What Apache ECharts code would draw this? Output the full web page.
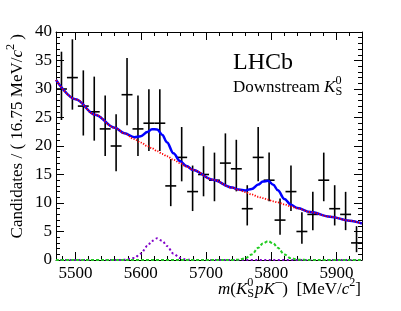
<!DOCTYPE html>
<html><head><meta charset="utf-8">
<script src="https://cdn.jsdelivr.net/npm/echarts@6/dist/echarts.min.js"></script>
<style>html,body{margin:0;padding:0;background:#fff}#c{width:401px;height:311px}</style>
</head><body><div id="c"></div>
<script>
// ---- data ----
const binLow = 5470, binWidth = 16.75, xMax = 5939;
const counts = [30,32,27,26,23,20,29,23,24,24,13,18,12,15,14,17,16,9,18,14,7,12,5,8,14,9,8,3];
const curveX = [5470,5500,5530,5560,5575,5590,5600,5610,5617,5625,5633,5640,5650,5660,5670,5680,5710,5740,5750,5760,5770,5780,5787,5795,5803,5810,5820,5830,5840,5860,5890,5920,5939];
const totalY = [31.6,28.2,25.5,23.2,22.23,21.55,21.72,22.45,22.95,22.9,21.95,20.65,18.72,17.35,16.47,15.81,14.1,12.71,12.36,12.2,12.47,13.23,13.76,13.9,13.21,12.23,10.72,9.7,9.11,8.4,7.6,6.9,6.4];
const bkgY = [31.6,28.2,25.5,23.2,22.2,21.2,20.6,20.0,19.6,19.1,18.6,18.2,17.6,17.0,16.4,15.8,14.1,12.7,12.3,11.9,11.5,11.1,10.85,10.6,10.3,10.1,9.75,9.4,9.05,8.4,7.6,6.9,6.4];
const peak1Y = [0,0,0,0,0.03,0.35,1.12,2.45,3.35,3.8,3.35,2.45,1.12,0.35,0.07,0.01,0,0,0,0,0,0,0,0,0,0,0,0,0,0,0,0,0];
const peak2Y = [0,0,0,0,0,0,0,0,0,0,0,0,0,0,0,0,0,0.01,0.06,0.30,0.97,2.13,2.91,3.3,2.91,2.13,0.97,0.30,0.06,0,0,0,0];
const xMajorTicks = [5500,5600,5700,5800,5900];
const xMinorTicks = [5480,5500,5520,5540,5560,5580,5600,5620,5640,5660,5680,5700,5720,5740,5760,5780,5800,5820,5840,5860,5880,5900,5920];

// ---- derived ----
const FAM = "'Liberation Serif','DejaVu Serif',serif";
function poissonLo(n){ if(n<=0) return 0; const a = 1 - 1/(9*n) - 1/(3*Math.sqrt(n)); return n*a*a*a; }
function poissonHi(n){ return n + Math.sqrt(n+0.75) + 1; }
const points = counts.map((n,i)=>[binLow + binWidth*(i+0.5), n, poissonLo(n), poissonHi(n)]);
const pair = ys => curveX.map((x,i)=>[x, ys[i]]);

const mctx = document.createElement('canvas').getContext('2d');
function build(pieces, base){
  let x = 0, prevStart = 0; const out = [];
  pieces.forEach(p=>{
    const size = base*(p.s||1);
    const font = (p.i?'italic ':'') + size.toFixed(1) + 'px ' + FAM;
    mctx.font = font;
    const w = mctx.measureText(p.t).width + (p.pad||0)*base;
    let px;
    if (p.stack){ px = prevStart; x = Math.max(x, prevStart + w); }
    else { px = x; prevStart = x; x += w; }
    out.push({t:p.t, x:px, dy:(p.dy||0)*base, font});
  });
  return {items:out, width:x};
}
function textEls(b, ox, oy, anchorRight){
  const shift = anchorRight ? -b.width : 0;
  return b.items.map(it=>({type:'text', x: ox + it.x + shift, y: oy + it.dy,
    style:{text:it.t, font:it.font, fill:'#000', align:'left', verticalAlign:'middle'}}));
}
const SUP = -0.42, SUB = 0.22, SC = 0.72;
const xTitle = build([
  {t:'m',i:1},{t:'('},{t:'K',i:1},{t:'0',s:SC,dy:SUP},{t:'S',s:SC,dy:SUB,stack:1,pad:0.06},
  {t:'p',i:1},{t:'K',i:1,pad:0.03},{t:'\u2013',s:0.8,dy:SUP},{t:')'},{t:'  [MeV/'},{t:'c',i:1},{t:'2',s:SC,dy:SUP},{t:']'}
], 17);
const yTitle = build([
  {t:'Candidates / ( 16.75 MeV/'},{t:'c',i:1},{t:'2',s:SC,dy:SUP},{t:' )'}
], 17);
const ds = build([
  {t:'Downstream '},{t:'K',i:1},{t:'0',s:SC,dy:SUP},{t:'S',s:SC,dy:SUB,stack:1}
], 17);

const graphics = [
  ...textEls(xTitle, 361, 290, true),
  {type:'group', x:17.5, y:34, rotation:Math.PI/2, children: textEls(yTitle, 0, 0, true)},
  {type:'text', x:233, y:63, style:{text:'LHCb', font:'24px '+FAM, fill:'#000', align:'left', verticalAlign:'middle'}},
  ...textEls(ds, 233, 88, false)
];

const axLine = {show:true, lineStyle:{color:'#000', width:1}};
const lab = {fontFamily:FAM, fontSize:17, color:'#000', formatter: v => String(v)};
const xBase = {type:'value', min:binLow, max:xMax, splitLine:{show:false}};
const chart = echarts.init(document.getElementById('c'), null, {renderer:'canvas'});
chart.setOption({
  animation:false,
  backgroundColor:'#fff',
  grid:{left:56, top:32, width:306, height:228, containLabel:false},
  xAxis:[
    Object.assign({}, xBase, {position:'bottom', axisLine:axLine,
      axisTick:{show:true, inside:true, length:8, customValues:xMajorTicks, lineStyle:{color:'#000'}},
      axisLabel:Object.assign({show:true, margin:5, customValues:xMajorTicks}, lab)}),
    Object.assign({}, xBase, {position:'bottom', axisLine:{show:false},
      axisTick:{show:true, inside:true, length:4, customValues:xMinorTicks, lineStyle:{color:'#000'}},
      axisLabel:{show:false}}),
    Object.assign({}, xBase, {position:'top', axisLine:axLine,
      axisTick:{show:true, inside:true, length:8, customValues:xMajorTicks, lineStyle:{color:'#000'}},
      axisLabel:{show:false}}),
    Object.assign({}, xBase, {position:'top', axisLine:{show:false},
      axisTick:{show:true, inside:true, length:4, customValues:xMinorTicks, lineStyle:{color:'#000'}},
      axisLabel:{show:false}})
  ],
  yAxis:[
    {type:'value', min:0, max:40, interval:5, position:'left', axisLine:axLine,
      axisTick:{show:true, inside:true, length:8, lineStyle:{color:'#000'}},
      minorTick:{show:true, splitNumber:5, length:4, lineStyle:{color:'#000'}},
      axisLabel:Object.assign({margin:4}, lab), splitLine:{show:false}},
    {type:'value', min:0, max:40, interval:5, position:'right', axisLine:axLine,
      axisTick:{show:true, inside:true, length:8, lineStyle:{color:'#000'}},
      minorTick:{show:true, splitNumber:5, length:4, lineStyle:{color:'#000'}},
      axisLabel:{show:false}, splitLine:{show:false}}
  ],
  series:[
    {type:'custom', xAxisIndex:0, yAxisIndex:0, data:points, clip:true, z:2,
      renderItem:(params, api)=>{
        const x = api.value(0), n = api.value(1), lo = api.value(2), hi = api.value(3);
        const a = api.coord([x - binWidth/2, n]), b = api.coord([x + binWidth/2, n]);
        const t = api.coord([x, hi]), u = api.coord([x, lo]);
        const st = {stroke:'#000', lineWidth:1.6};
        return {type:'group', children:[
          {type:'line', shape:{x1:a[0], y1:a[1], x2:b[0], y2:b[1]}, style:st},
          {type:'line', shape:{x1:t[0], y1:t[1], x2:u[0], y2:u[1]}, style:st}
        ]};
      }},
    {type:'line', data:pair(totalY), showSymbol:false, symbol:'none', smooth:0.35, smoothMonotone:'x', z:3,
      lineStyle:{color:'#0000ff', width:2.5}},
    {type:'line', data:pair(bkgY), showSymbol:false, symbol:'none', smooth:0.35, smoothMonotone:'x', z:4,
      lineStyle:{color:'#ff0000', width:1.8, type:[1.2,1.5]}},
    {type:'line', data:pair(peak1Y), showSymbol:false, symbol:'none', smooth:0.35, smoothMonotone:'x', z:5,
      lineStyle:{color:'#8000c8', width:2, type:[2,2.5]}},
    {type:'line', data:pair(peak2Y), showSymbol:false, symbol:'none', smooth:0.35, smoothMonotone:'x', z:6,
      lineStyle:{color:'#22cc22', width:2, type:[3,2]}}
  ],
  graphic: graphics
});
</script></body></html>
